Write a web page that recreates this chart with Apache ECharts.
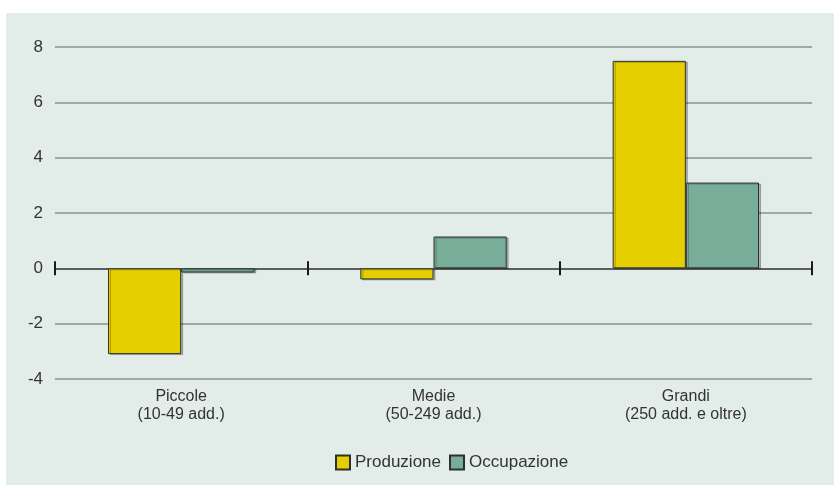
<!DOCTYPE html>
<html>
<head>
<meta charset="utf-8">
<script src="https://cdn.jsdelivr.net/npm/echarts@6/dist/echarts.min.js"></script>
<style>
html, body { margin: 0; padding: 0; background: #fff; }
#chartmain { width: 834px; height: 485px; }
</style>
</head>
<body>
<div id="chartmain"></div>
<script>
var categorie = ['Piccole\n(10-49 add.)', 'Medie\n(50-249 add.)', 'Grandi\n(250 add. e oltre)'];
var produzione = [-3.1, -0.4, 7.5];
var occupazione = [-0.15, 1.15, 3.1];
var font = '"Liberation Sans Narrow", "Liberation Sans", Arial, sans-serif';

var barStyle = function (c) {
    return {
        color: c,
        borderColor: '#2f2f2f',
        borderWidth: 1,
        shadowColor: 'rgba(0,0,0,0.25)',
        shadowOffsetX: 2,
        shadowOffsetY: 1,
        shadowBlur: 0
    };
};

option = {
    backgroundColor: '#ffffff',
    animation: false,
    textStyle: { fontFamily: font },
    graphic: [{
        type: 'rect',
        z: -10,
        shape: { x: 6, y: 13, width: 828, height: 472 },
        style: { fill: '#e2ece9' }
    }],
    grid: { left: 55, right: 22, top: 47, bottom: 106 },
    legend: {
        bottom: 9,
        left: 330,
        itemWidth: 14,
        itemHeight: 14,
        itemGap: 8,
        icon: 'rect',
        textStyle: { fontSize: 17, color: '#333', fontFamily: font },
        data: ['Produzione', 'Occupazione']
    },
    xAxis: [{
        type: 'category',
        data: categorie,
        position: 'bottom',
        axisLine: { onZero: true, onZeroAxisIndex: 0, lineStyle: { color: '#5a5e5c', width: 2 } },
        axisTick: { show: true, length: 7, lineStyle: { color: '#1a1a1a', width: 2 } },
        axisLabel: { show: false }
    }, {
        type: 'category',
        data: categorie,
        position: 'bottom',
        axisLine: { onZero: true, onZeroAxisIndex: 1, lineStyle: { color: '#5a5e5c', width: 2 } },
        axisTick: { show: true, inside: true, length: 7, lineStyle: { color: '#1a1a1a', width: 2 } },
        axisLabel: { show: false }
    }, {
        type: 'category',
        data: categorie,
        position: 'bottom',
        axisLine: { onZero: false, show: false },
        axisTick: { show: false },
        axisLabel: { margin: 9, fontSize: 16, lineHeight: 18, color: '#333', fontFamily: font }
    }],
    yAxis: [{
        type: 'value',
        min: -4,
        max: 8,
        interval: 2,
        axisLine: { show: false },
        axisTick: { show: false },
        axisLabel: { margin: 12, fontSize: 17, color: '#333', fontFamily: font },
        splitLine: { lineStyle: { color: '#8c9290', width: 1.5 } }
    }, {
        type: 'value',
        min: -4,
        max: 8,
        interval: 2,
        position: 'left',
        show: false,
        splitLine: { show: false }
    }],
    series: [{
        name: 'Produzione',
        type: 'bar',
        xAxisIndex: 2,
        data: produzione,
        barGap: '0%',
        barCategoryGap: '42%',
        itemStyle: barStyle('#e6cf00')
    }, {
        name: 'Occupazione',
        type: 'bar',
        xAxisIndex: 2,
        data: occupazione,
        itemStyle: barStyle('#78ae99')
    }]
};

var myChart = echarts.init(document.getElementById('chartmain'));
myChart.setOption(option);
</script>
</body>
</html>
